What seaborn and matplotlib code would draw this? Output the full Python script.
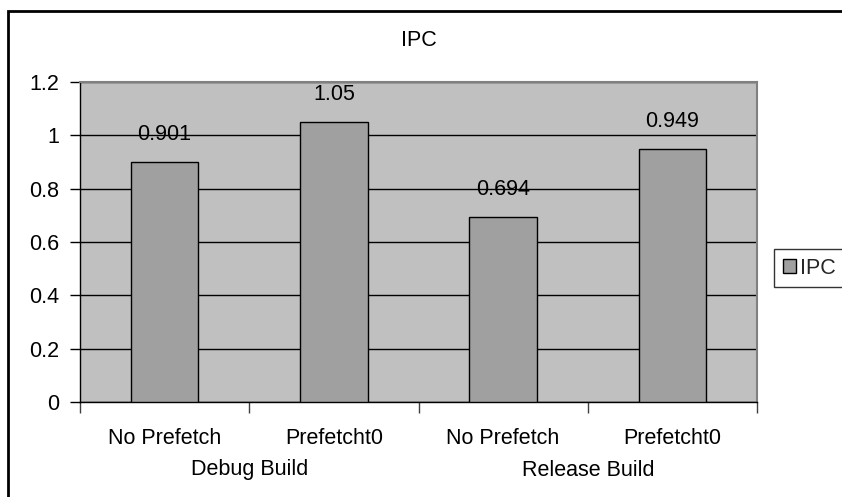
import matplotlib
matplotlib.use("Agg")
import matplotlib.pyplot as plt
import matplotlib.transforms as mtransforms
from matplotlib.patches import Rectangle, Patch
import seaborn as sns
import pandas as pd

# Chart data
builds = ["Debug Build", "Debug Build", "Release Build", "Release Build"]
modes = ["No Prefetch", "Prefetcht0", "No Prefetch", "Prefetcht0"]
ipc = [0.901, 1.05, 0.694, 0.949]
value_labels = ["0.901", "1.05", "0.694", "0.949"]
group_names = ["Debug Build", "Release Build"]
y_ticks = [0, 0.2, 0.4, 0.6, 0.8, 1.0, 1.2]
y_tick_labels = ["0", "0.2", "0.4", "0.6", "0.8", "1", "1.2"]
series_name = "IPC"

sns.set_theme(style="white")
plt.rcParams["font.family"] = ["Liberation Sans", "DejaVu Sans"]

FS = 15.5
W, H = 842, 497
fig = plt.figure(figsize=(W / 100, H / 100), dpi=100)
fig.patch.set_facecolor("white")

# plot area in pixel coordinates
left, top, right, bottom = 80, 82, 757, 402
ax = fig.add_axes([left / W, 1 - bottom / H, (right - left) / W, (bottom - top) / H])
ax.set_facecolor("#C0C0C0")

df = pd.DataFrame({
    "key": [f"{b} / {m}" for b, m in zip(builds, modes)],
    "ipc": ipc,
})
sns.barplot(data=df, x="key", y="ipc", color="#A0A0A0", saturation=1,
            width=0.4, edgecolor="black", linewidth=1.0, ax=ax, zorder=3)

ax.set_xlim(-0.5, len(ipc) - 0.5)
ax.set_ylim(0, 1.2)
ax.set_xlabel("")
ax.set_ylabel("")

# y axis
ax.set_yticks(y_ticks)
ax.set_yticklabels(y_tick_labels, fontsize=FS, color="black")
ax.yaxis.grid(True, color="black", linewidth=1.0, zorder=1)
ax.set_axisbelow(True)
ax.tick_params(axis="y", direction="out", length=7, width=1, color="black", pad=8, left=True)

# x axis: labels under bars, ticks at category boundaries
ax.set_xticks(range(len(modes)))
ax.set_xticklabels(modes, fontsize=FS, color="black")
ax.tick_params(axis="x", which="major", length=0, pad=19, bottom=True)
ax.set_xticks([i - 0.5 for i in range(len(modes) + 1)], minor=True)
ax.tick_params(axis="x", which="minor", direction="out", length=8, width=1, color="#404040", bottom=True)

for side in ["top", "right"]:
    ax.spines[side].set_color("#808080")
    ax.spines[side].set_linewidth(1.5)
for side in ["left", "bottom"]:
    ax.spines[side].set_color("black")
    ax.spines[side].set_linewidth(1.0)

# value labels above bars
for i, (v, s) in enumerate(zip(ipc, value_labels)):
    ax.annotate(s, (i, v), xytext=(0, 17), textcoords="offset pixels",
                ha="center", va="bottom", fontsize=FS, color="black", zorder=4)

# build group labels
trans = mtransforms.blended_transform_factory(ax.transData, fig.transFigure)
for g, name in enumerate(group_names):
    ax.text(2 * g + 0.5, 1 - 470 / H, name, transform=trans, ha="center", va="center",
            fontsize=FS, color="black")

# title
fig.text((left + right) / 2 / W, 1 - 41 / H, series_name, ha="center", va="center",
         fontsize=FS, color="black")

# legend
handle = Patch(facecolor="#A0A0A0", edgecolor="black", label=series_name)
leg = fig.legend(handles=[handle], loc="upper left", bbox_to_anchor=(774 / W, 1 - 249 / H),
                 borderaxespad=0, fancybox=False, frameon=True, fontsize=FS,
                 handlelength=0.6, handleheight=0.6, handletextpad=0.2,
                 borderpad=0.4)
leg.get_frame().set_edgecolor("black")
leg.get_frame().set_linewidth(1.0)

# chart frame
fig.add_artist(Rectangle((8 / W, -0.1), 1.2, 1.1 - 11 / H, transform=fig.transFigure,
                         fill=False, edgecolor="black", linewidth=2.0))

fig.savefig("out.png", dpi=100, facecolor="white")
